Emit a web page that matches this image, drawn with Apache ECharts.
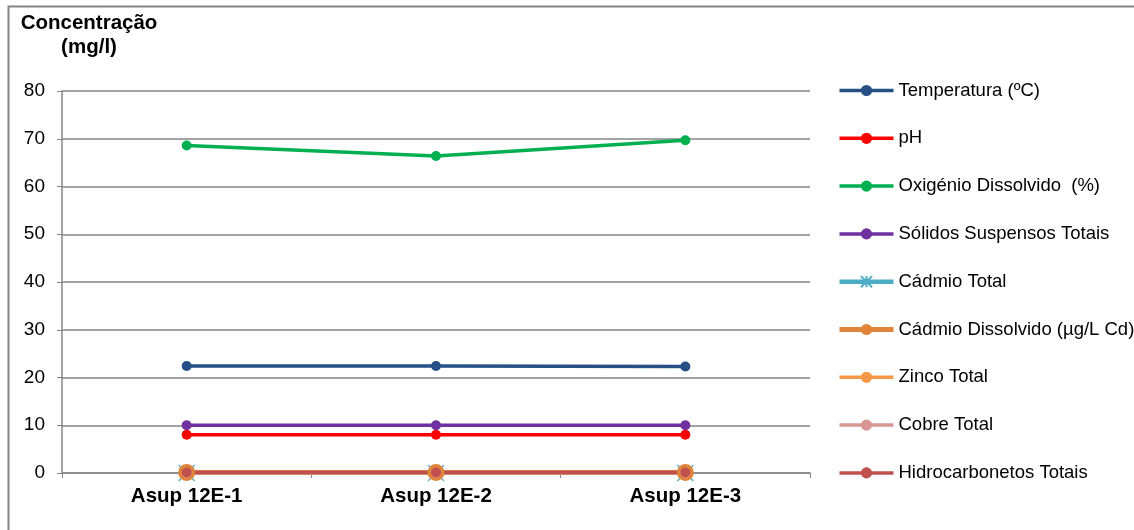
<!DOCTYPE html>
<html>
<head>
<meta charset="utf-8">
<script src="https://cdn.jsdelivr.net/npm/echarts@6/dist/echarts.min.js"></script>
<style>
  html, body { margin: 0; padding: 0; background: #fff; }
  #chart { width: 1134px; height: 530px; }
</style>
</head>
<body>
<div id="chart"></div>
<script>
// Sampling stations
const categories = ['Asup 12E-1', 'Asup 12E-2', 'Asup 12E-3'];

// Measured parameters per station
const temperatura = [22.4, 22.4, 22.3];
const ph = [8.0, 8.0, 8.0];
const oxigenio = [68.6, 66.4, 69.7];
const solidos = [10.0, 10.0, 10.0];
const cadmioTotal = [0.01, 0.01, 0.01];
const cadmioDissolvido = [0.1, 0.1, 0.1];
const zinco = [0.05, 0.05, 0.05];
const cobre = [0.02, 0.02, 0.02];
const hidrocarbonetos = [0.1, 0.1, 0.1];

const yTicks = { min: 0, max: 80, interval: 10 };

const FONT = 'Liberation Sans, Arial, sans-serif';
const GRID = '#868686';

// asterisk-like marker for Cádmio Total
const starPath = 'path://M0,0 L10,10 M10,0 L0,10 M5,0 L5,10 M0,5 L10,5';

const styles = {
  'Temperatura (ºC)': { color: '#254F85' },
  'pH': { color: '#FF0000' },
  'Oxigénio Dissolvido  (%)': { color: '#00B050' },
  'Sólidos Suspensos Totais': { color: '#7030A0' },
  'Cádmio Total': { color: '#4BACC6', symbol: starPath, symbolSize: 16, width: 4.5, hollow: true },
  'Cádmio Dissolvido (µg/L Cd)': { color: '#E0843A', symbolSize: 17, width: 5 },
  'Zinco Total': { color: '#F79646' },
  'Cobre Total': { color: '#D99694' },
  'Hidrocarbonetos Totais': { color: '#C0504D', symbolSize: 10 }
};

function lineSeries(name, data) {
  const s = styles[name];
  return {
    name: name,
    type: 'line',
    data: data,
    symbol: s.symbol || 'circle',
    symbolSize: s.symbolSize || 10,
    lineStyle: { color: s.color, width: s.width || 3.5 },
    itemStyle: s.hollow
      ? { color: 'none', borderColor: s.color, borderWidth: 1.2 }
      : { color: s.color },
    animation: false
  };
}

const legendData = Object.keys(styles).map(function (name) {
  const s = styles[name];
  return {
    name: name,
    lineStyle: { color: s.color, width: s.width || 3.5 }
  };
});

const chart = echarts.init(document.getElementById('chart'));
chart.setOption({
  backgroundColor: '#fff',
  animation: false,
  textStyle: { fontFamily: FONT },
  graphic: [
    {
      type: 'rect',
      shape: { x: 8.5, y: 6.5, width: 1140, height: 540 },
      style: { fill: 'none', stroke: '#868686', lineWidth: 2 },
      silent: true
    },
    {
      type: 'text',
      x: 89, y: 11,
      style: {
        text: 'Concentração\n(mg/l)',
        textAlign: 'center',
        font: 'bold 20.5px ' + FONT,
        fill: '#000',
        lineHeight: 24
      }
    }
  ],
  grid: { left: 62, right: 324, top: 91, bottom: 57 },
  xAxis: {
    type: 'category',
    data: categories,
    boundaryGap: true,
    axisLine: { show: true, lineStyle: { color: GRID, width: 1.5 } },
    axisTick: { show: true, interval: 0, length: 5, lineStyle: { color: GRID } },
    axisLabel: { color: '#000', fontSize: 20.5, fontWeight: 'bold', fontFamily: FONT, margin: 13 }
  },
  yAxis: {
    type: 'value',
    min: yTicks.min, max: yTicks.max, interval: yTicks.interval,
    axisLine: { show: true, lineStyle: { color: GRID, width: 1.5 } },
    axisTick: { show: true, length: 5, lineStyle: { color: GRID } },
    splitLine: { show: true, lineStyle: { color: GRID, width: 1.5 } },
    axisLabel: { color: '#000', fontSize: 19, fontFamily: FONT, margin: 17 }
  },
  legend: {
    orient: 'vertical',
    left: 837,
    top: 81,
    padding: 0,
    itemWidth: 54,
    itemHeight: 14,
    itemGap: 28.8,
    textStyle: { color: '#000', fontSize: 18.5, fontFamily: FONT },
    data: legendData
  },
  series: Object.keys(styles).map(function (name, i) {
    return lineSeries(name, [temperatura, ph, oxigenio, solidos, cadmioTotal,
      cadmioDissolvido, zinco, cobre, hidrocarbonetos][i]);
  })
});
</script>
</body>
</html>
